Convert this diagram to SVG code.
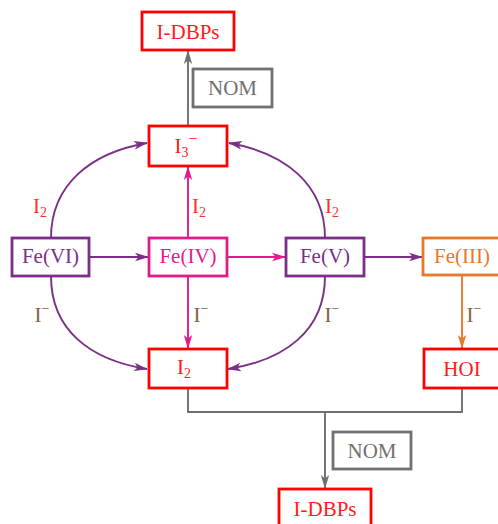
<svg xmlns="http://www.w3.org/2000/svg" width="498" height="524" viewBox="0 0 498 524">
<defs>
<style>
text{font-family:"Liberation Serif","Times New Roman",serif;font-size:21px;text-anchor:middle}
.box{fill:#fff;stroke-width:2.8}
.red{stroke:#ff0000}.redt{fill:#ff1a1a}
.pur{stroke:#7b2f87}.purt{fill:#7b2f87}
.pink{stroke:#e6198c}.pinkt{fill:#e6198c}
.org{stroke:#e8782a}.orgt{fill:#e8782a}
.gry{stroke:#707070}.gryt{fill:#707070}
.c{fill:none;stroke-width:1.9}
.lr{fill:#ff3030}.lb{fill:#7d6540}
.sub{font-size:14px}
.sup{font-size:16px}
</style>
<marker id="aP" markerWidth="14" markerHeight="10" refX="13" refY="5" orient="auto" markerUnits="userSpaceOnUse"><path d="M0,0.8 L14,5 L0,9.2 L3.5,5 z" fill="#7b2f87"/></marker>
<marker id="aK" markerWidth="14" markerHeight="10" refX="13" refY="5" orient="auto" markerUnits="userSpaceOnUse"><path d="M0,0.8 L14,5 L0,9.2 L3.5,5 z" fill="#e6198c"/></marker>
<marker id="aO" markerWidth="14" markerHeight="10" refX="13" refY="5" orient="auto" markerUnits="userSpaceOnUse"><path d="M0,0.8 L14,5 L0,9.2 L3.5,5 z" fill="#e8782a"/></marker>
<marker id="aG" markerWidth="14" markerHeight="10" refX="13" refY="5" orient="auto" markerUnits="userSpaceOnUse"><path d="M0,0.8 L14,5 L0,9.2 L3.5,5 z" fill="#707070"/></marker>
</defs>

<g id="connectors">
<path class="c gry" d="M188,126 L188,51" marker-end="url(#aG)"/>
<path class="c pink" d="M188,238 L188,167" marker-end="url(#aK)"/>
<path class="c pink" d="M188,276 L188,348" marker-end="url(#aK)"/>
<path class="c pur" d="M89,257 L148,257" marker-end="url(#aP)"/>
<path class="c pink" d="M227,257 L285,257" marker-end="url(#aK)"/>
<path class="c pur" d="M364,257 L422,257" marker-end="url(#aP)"/>
<path class="c org" d="M462,275 L462,348" marker-end="url(#aO)"/>
<path class="c pur" d="M51,238 C51,185 90,153 147,143" marker-end="url(#aP)"/>
<path class="c pur" d="M325,238 C325,185 286,153 229,143" marker-end="url(#aP)"/>
<path class="c pur" d="M51,276 C51,330 90,360 147,369" marker-end="url(#aP)"/>
<path class="c pur" d="M325,276 C325,330 286,360 228,369" marker-end="url(#aP)"/>
<path class="c gry" d="M188,388 L188,412 L462,412 L462,388"/>
<path class="c gry" d="M325,412 L325,488" marker-end="url(#aG)"/>
</g>

<g id="labels">
<text x="40" y="213" class="lr">I<tspan class="sub" dy="4">2</tspan></text>
<text x="199" y="213" class="lr">I<tspan class="sub" dy="4">2</tspan></text>
<text x="332" y="213" class="lr">I<tspan class="sub" dy="4">2</tspan></text>
<text x="42" y="322" class="lb">I<tspan class="sub" dy="-9">−</tspan></text>
<text x="201" y="322" class="lb">I<tspan class="sub" dy="-9">−</tspan></text>
<text x="332" y="322" class="lb">I<tspan class="sub" dy="-9">−</tspan></text>
<text x="474" y="322" class="lb">I<tspan class="sub" dy="-9">−</tspan></text>
</g>

<g id="idbps-top"><rect class="box red" x="142" y="12" width="92" height="38"/><text x="188" y="38.5" class="redt">I-DBPs</text></g>
<g id="nom-top"><rect class="box gry" x="193" y="69" width="79" height="38"/><text x="232.5" y="95" class="gryt">NOM</text></g>
<g id="i3"><rect class="box red" x="149" y="126" width="78" height="40"/><text x="186" y="153" class="redt">I<tspan class="sub" dy="4">3</tspan><tspan class="sup" dy="-13">−</tspan></text></g>
<g id="fe6"><rect class="box pur" x="12" y="238" width="77" height="38"/><text x="50.5" y="263" class="purt">Fe(VI)</text></g>
<g id="fe4"><rect class="box pink" x="149" y="238" width="78" height="38"/><text x="188" y="263" class="pinkt">Fe(IV)</text></g>
<g id="fe5"><rect class="box pur" x="286" y="238" width="78" height="38"/><text x="325" y="263" class="purt">Fe(V)</text></g>
<g id="fe3"><rect class="box org" x="423" y="238" width="78" height="37"/><text x="462" y="263" class="orgt">Fe(III)</text></g>
<g id="i2"><rect class="box red" x="149" y="349" width="78" height="39"/><text x="184" y="374" class="redt">I<tspan class="sub" dy="4">2</tspan></text></g>
<g id="hoi"><rect class="box red" x="424" y="349" width="78" height="39"/><text x="462" y="376" class="redt">HOI</text></g>
<g id="nom-bottom"><rect class="box gry" x="333" y="432" width="78" height="37"/><text x="372" y="458" class="gryt">NOM</text></g>
<g id="idbps-bottom"><rect class="box red" x="279" y="489" width="92" height="38"/><text x="325" y="516" class="redt">I-DBPs</text></g>
</svg>
